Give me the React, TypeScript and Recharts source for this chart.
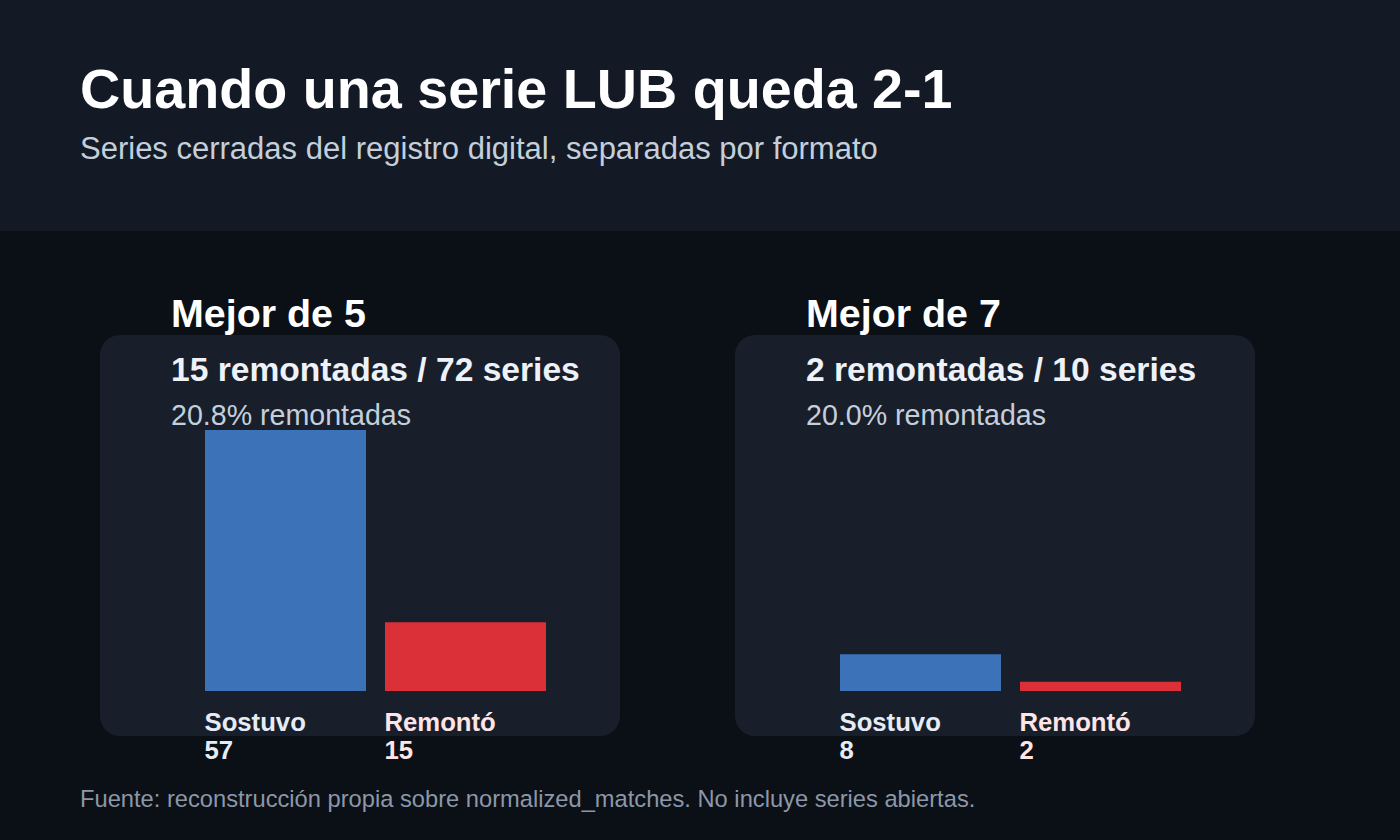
import React from 'react';
import { BarChart, Bar, XAxis, YAxis, Cell } from 'recharts';

const formats = ['Mejor de 5', 'Mejor de 7'];
const outcomes = ['Sostuvo', 'Remontó'];
const held = [57, 8];
const comebacks = [15, 2];

const FONT = '"Liberation Sans", Arial, Helvetica, sans-serif';
const barColors = ['#3b72b8', '#dc3039'];
const labelColors = ['#e6ecf5', '#ffe4e6'];
const BAR_W = 161;
const yMax = Math.max(...held, ...comebacks);

const OutcomeTick = (props: any) => {
  const { x, y, payload, index } = props;
  const row = props.rows[index];
  const left = x - BAR_W / 2;
  return (
    <g>
      <text x={left} y={y + 32} fill={labelColors[index]} fontSize={25.7} fontWeight={700} fontFamily={FONT}>
        {payload.value}
      </text>
      <text x={left} y={y + 60} fill={labelColors[index]} fontSize={25.7} fontWeight={700} fontFamily={FONT}>
        {row.value}
      </text>
    </g>
  );
};

function Panel({ idx, left }: { idx: number; left: number }) {
  const rows = outcomes.map((name, i) => ({ name, value: i === 0 ? held[idx] : comebacks[idx] }));
  const total = held[idx] + comebacks[idx];
  const pct = ((comebacks[idx] / total) * 100).toFixed(1);
  return (
    <>
      <div style={{ position: 'absolute', left, top: 335, width: 520, height: 401, background: '#181f2b', borderRadius: 20 }} />
      <div style={{ position: 'absolute', left, top: 335 }}>
        <BarChart width={520} height={440} data={rows} margin={{ top: 95, right: 65, left: 95, bottom: 24 }} barSize={BAR_W}>
          <YAxis hide domain={[0, yMax]} />
          <XAxis dataKey="name" axisLine={false} tickLine={false} height={60} interval={0} tick={<OutcomeTick rows={rows} />} />
          <Bar dataKey="value" isAnimationActive={false}>
            {rows.map((r, i) => (
              <Cell key={r.name} fill={barColors[i]} />
            ))}
          </Bar>
        </BarChart>
      </div>
      <svg style={{ position: 'absolute', left: 0, top: 0, pointerEvents: 'none' }} width={1400} height={840}>
        <text x={left + 71} y={327} fill="#ffffff" fontSize={39.4} fontWeight={700} fontFamily={FONT}>
          {formats[idx]}
        </text>
        <text x={left + 71} y={381} fill="#eef2f8" fontSize={33.6} fontWeight={700} fontFamily={FONT}>
          {`${comebacks[idx]} remontadas / ${total} series`}
        </text>
        <text x={left + 71} y={425} fill="#c5cfdc" fontSize={28.6} fontFamily={FONT}>
          {`${pct}% remontadas`}
        </text>
      </svg>
    </>
  );
}

export default function App() {
  return (
    <div style={{ position: 'fixed', left: 0, top: 0, width: 1400, height: 840, background: '#0b0f16', fontFamily: FONT, overflow: 'hidden' }}>
      <div style={{ position: 'absolute', left: 0, top: 0, width: 1400, height: 231, background: '#131a25' }} />
      <svg style={{ position: 'absolute', left: 0, top: 0 }} width={1400} height={231}>
        <text x={80} y={108} fill="#ffffff" fontSize={55.7} fontWeight={700} fontFamily={FONT}>
          Cuando una serie LUB queda 2-1
        </text>
        <text x={80} y={159} fill="#c5cfdc" fontSize={31} fontFamily={FONT}>
          Series cerradas del registro digital, separadas por formato
        </text>
      </svg>
      <Panel idx={0} left={100} />
      <Panel idx={1} left={735} />
      <svg style={{ position: 'absolute', left: 0, top: 760 }} width={1400} height={80}>
        <text x={80} y={47} fill="#8c97a8" fontSize={23.7} fontFamily={FONT}>
          Fuente: reconstrucción propia sobre normalized_matches. No incluye series abiertas.
        </text>
      </svg>
    </div>
  );
}
